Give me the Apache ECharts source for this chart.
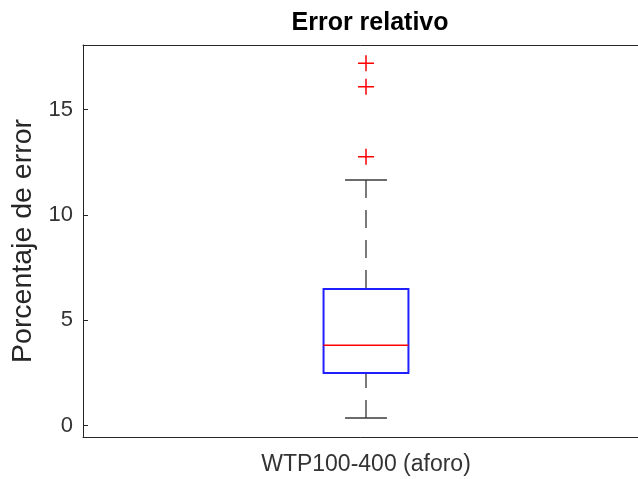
<!DOCTYPE html>
<html>
<head>
<meta charset="utf-8">
<script src="https://cdn.jsdelivr.net/npm/echarts@6/dist/echarts.min.js"></script>
<style>
  html, body { margin: 0; padding: 0; background: #fff; }
  #chart { width: 638px; height: 479px; }
</style>
</head>
<body>
<div id="chart"></div>
<script>
  // datos
  const categories = ['WTP100-400 (aforo)'];
  const lowerWhisker = [0.36];
  const q1 = [2.50];
  const median = [3.81];
  const q3 = [6.48];
  const upperWhisker = [11.66];
  const outliers = [12.76, 16.08, 17.19];
  const yTicks = [0, 5, 10, 15];

  // [categoria, lw, q1, mediana, q3, uw]
  const boxData = categories.map((c, i) => [i, lowerWhisker[i], q1[i], median[i], q3[i], upperWhisker[i]]);
  const outlierData = outliers.map(v => [0, v]);

  const axisColor = '#262626';

  const renderBox = (params, api) => {
    let x = api.value(0);
    let band = api.size([1, 0])[0];
    let half = band * 0.075;   // mitad del ancho de la caja
    let capHalf = band * 0.037;
    let pLw = api.coord([x, api.value(1)]);
    let pQ1 = api.coord([x, api.value(2)]);
    let pMed = api.coord([x, api.value(3)]);
    let pQ3 = api.coord([x, api.value(4)]);
    let pUw = api.coord([x, api.value(5)]);
    let cx = pQ1[0];
    let whisker = { stroke: '#7a7a7a', lineWidth: 2, lineDash: [18, 12] };
    let cap = { stroke: '#3a3a3a', lineWidth: 1.5 };
    return {
      type: 'group',
      children: [
        { type: 'line', shape: { x1: cx, y1: pUw[1], x2: cx, y2: pQ3[1] }, style: whisker },
        { type: 'line', shape: { x1: cx, y1: pLw[1], x2: cx, y2: pQ1[1] }, style: whisker },
        { type: 'line', shape: { x1: cx - capHalf, y1: pUw[1], x2: cx + capHalf, y2: pUw[1] }, style: cap },
        { type: 'line', shape: { x1: cx - capHalf, y1: pLw[1], x2: cx + capHalf, y2: pLw[1] }, style: cap },
        { type: 'rect', shape: { x: cx - half, y: pQ3[1], width: half * 2, height: pQ1[1] - pQ3[1] },
          style: { fill: 'none', stroke: '#2020ff', lineWidth: 2 } },
        { type: 'line', shape: { x1: cx - half, y1: pMed[1], x2: cx + half, y2: pMed[1] },
          style: { stroke: '#ff0000', lineWidth: 1.5 } }
      ]
    };
  };

  let myChart = echarts.init(document.getElementById('chart'), null, { renderer: 'canvas' });

  let option = {
    backgroundColor: '#fff',
    animation: false,
    title: {
      text: 'Error relativo',
      left: 365,
      textAlign: 'center',
      top: 6,
      textStyle: { fontFamily: 'Liberation Sans', fontWeight: 'bold', fontSize: 25, color: '#000' }
    },
    grid: { left: 83, top: 45, right: -11, bottom: 42, outerBoundsMode: 'none', containLabel: false },
    xAxis: [
      {
        type: 'category',
        data: categories,
        boundaryGap: true,
        axisLine: { onZero: false, lineStyle: { color: axisColor, width: 1 } },
        axisTick: { inside: true, alignWithLabel: true, length: 5, lineStyle: { color: axisColor } },
        axisLabel: { margin: 16, fontFamily: 'Liberation Sans', fontSize: 23, color: '#333' },
        splitLine: { show: false }
      },
      {
        type: 'category',
        data: categories,
        position: 'top',
        boundaryGap: true,
        axisLine: { onZero: false, lineStyle: { color: axisColor, width: 1 } },
        axisTick: { inside: true, alignWithLabel: true, length: 5, lineStyle: { color: axisColor } },
        axisLabel: { show: false },
        splitLine: { show: false }
      }
    ],
    yAxis: {
      type: 'value',
      min: -0.54,
      max: 18.06,
      name: 'Porcentaje de error',
      nameLocation: 'middle',
      nameGap: 45,
      nameTextStyle: { fontFamily: 'Liberation Sans', fontSize: 28.5, color: '#262626' },
      axisLine: { show: true, onZero: false, lineStyle: { color: axisColor, width: 1 } },
      axisTick: { show: true, inside: true, length: 5, customValues: yTicks, lineStyle: { color: axisColor } },
      axisLabel: { margin: 10, customValues: yTicks, fontFamily: 'Liberation Sans', fontSize: 22, color: '#333' },
      splitLine: { show: false }
    },
    series: [
      {
        type: 'custom',
        renderItem: renderBox,
        data: boxData,
        encode: { x: 0, y: [1, 2, 3, 4, 5] },
        clip: false,
        silent: true
      },
      {
        type: 'scatter',
        data: outlierData,
        symbol: 'path://M0,8 L16,8 M8,0 L8,16',
        symbolSize: 16,
        itemStyle: { color: 'transparent', borderColor: '#ff0000', borderWidth: 1.5, opacity: 1 },
        silent: true
      }
    ]
  };
  myChart.setOption(option);
</script>
</body>
</html>
